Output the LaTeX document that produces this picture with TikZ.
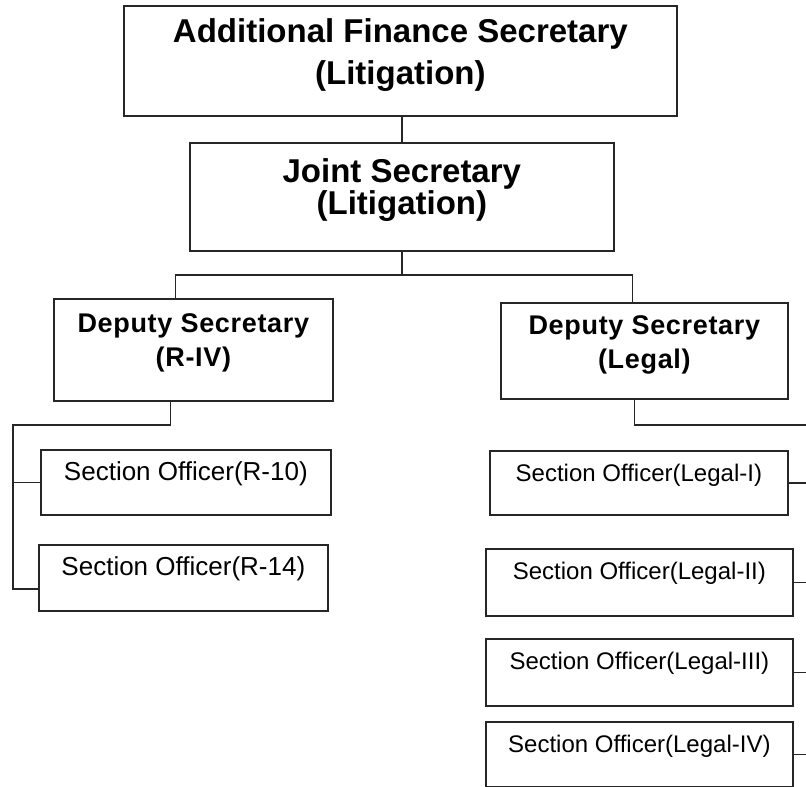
\documentclass[tikz,border=0pt]{standalone}
\usepackage{fontspec}
\setmainfont{Liberation Sans}
\newfontfamily\dsfont[LetterSpace=2.5]{Liberation Sans}
\usepackage{tikz}
\newcommand{\padbelow}[1]{\rule[-#1]{0pt}{#1}}
\tikzstyle{headbox} = [draw=black!85, line width=1.7pt, rectangle,
    inner sep=0pt, align=center, anchor=north west,
    font=\fontsize{33}{42}\selectfont\bfseries]
\tikzstyle{deputybox} = [headbox, font=\dsfont\fontsize{27}{34}\selectfont\bfseries]
\tikzstyle{officerbox} = [draw=black!85, line width=1.7pt, rectangle,
    inner sep=0pt, text height=31pt, anchor=north west,
    font=\fontsize{24}{30}\selectfont]
\tikzstyle{link} = [draw=black!85, line width=1.7pt]

\begin{document}
\begin{tikzpicture}[x=1pt, y=-1pt]
    \useasboundingbox (0,0) rectangle (806,787);
    % top of the chart
    \node [headbox, minimum width=553pt, minimum height=110pt] (afs) at (123,5)
        {Additional Finance Secretary\\(Litigation)\padbelow{19pt}};
    \node [headbox, minimum width=424pt, minimum height=108pt,
        font=\fontsize{33}{32}\selectfont\bfseries] (js) at (189,142)
        {Joint Secretary\\(Litigation)\padbelow{21pt}};
    \node [deputybox, minimum width=279pt, minimum height=102pt] (dsr) at (53,298)
        {Deputy Secretary\\(R-IV)\padbelow{20pt}};
    \node [deputybox, minimum width=287pt, minimum height=96pt] (dsl) at (500,302)
        {Deputy Secretary\\(Legal)\padbelow{18pt}};
    % section officers
    \node [officerbox, minimum width=290pt, text depth=34pt, font=\fontsize{26}{30}\selectfont] (so10) at (40,449) {Section Officer(R-10)};
    \node [officerbox, minimum width=289pt, text depth=35pt, font=\fontsize{26}{30}\selectfont] (so14) at (38,544) {Section Officer(R-14)};
    \node [officerbox, minimum width=298pt, text depth=33pt] (sol1) at (489,450) {Section Officer(Legal-I)};
    \node [officerbox, minimum width=307pt, text depth=36pt] (sol2) at (485,548) {Section Officer(Legal-II)};
    \node [officerbox, minimum width=307pt, text depth=36pt] (sol3) at (485,638) {Section Officer(Legal-III)};
    \node [officerbox, minimum width=307pt, text depth=34pt] (sol4) at (485,721) {Section Officer(Legal-IV)};

    \coordinate (lspine) at (13,425);
    \coordinate (rspine) at (809,425);

    \draw [link] (js.north) -- (js.north |- afs.south);
    \draw [link] (js.south) -- ([yshift=-23pt]js.south);
    \draw [link] ([xshift=-18pt]dsr.north) |- ([yshift=-23pt]js.south) -| ([xshift=-12pt]dsl.north);
    % left branch
    \draw [link] ([xshift=-23pt]dsr.south) |- (lspine) |- (so10.west);
    \draw [link] (lspine) |- ([yshift=-11pt]so14.west);
    % right branch
    \draw [link] ([xshift=-10pt]dsl.south) |- (rspine);
    \draw [link] (sol1.east) -- (sol1.east -| rspine);
    \draw [link] (sol2.east) -- (sol2.east -| rspine);
    \draw [link] (sol3.east) -- (sol3.east -| rspine);
    \draw [link] (sol4.east) -- (sol4.east -| rspine);
\end{tikzpicture}
\end{document}
